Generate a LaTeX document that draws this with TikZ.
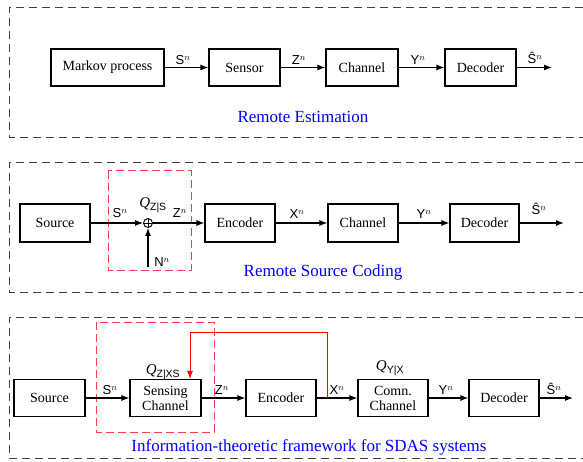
\documentclass[tikz,border=0pt]{standalone}
\usepackage{fontspec}
\setmainfont{Liberation Serif}
\setsansfont{Liberation Sans}
\usetikzlibrary{arrows.meta}
\begin{document}
\begin{tikzpicture}[x=1pt,y=-1pt,
 blk/.style={draw, line width=1.1pt, inner sep=0pt, font=\fontsize{14}{16}\selectfont, align=center},
 arr/.style={-{Latex[length=8pt,width=6pt]}, line width=1.1pt},
 redarr/.style={-{Latex[length=8pt,width=6pt]}, line width=0.9pt, draw=red},
 lbl/.style={font=\sffamily\fontsize{13}{14}\selectfont, inner sep=0pt},
 qlbl/.style={font=\fontsize{15}{16}\selectfont, inner sep=0pt},
 panel/.style={draw=black!75, line width=0.9pt, dash pattern=on 8pt off 5pt},
 redbox/.style={draw=red!75, line width=1pt, dash pattern=on 8pt off 4pt},
 ttl/.style={text=blue, font=\fontsize{17}{20}\selectfont, inner sep=0pt},
]
\useasboundingbox (0,0) rectangle (583,462);

% ---------- Panel 1 ----------
\draw[panel] (583,7) -- (9,7) -- (9,137) -- (583,137);
\node[blk, minimum width=113pt, minimum height=37pt] (mk) at (107.5,67.5) {Markov process};
\node[blk, minimum width=71pt, minimum height=37pt] (sn) at (244.5,67.5) {Sensor};
\node[blk, minimum width=72pt, minimum height=37pt] (ch1) at (362,67.5) {Channel};
\node[blk, minimum width=71pt, minimum height=37pt] (dc1) at (480.5,67.5) {Decoder};
\coordinate (e1) at (552,67.5);
\draw[arr] (mk) -- (sn);
\draw[arr] (sn) -- (ch1);
\draw[arr] (ch1) -- (dc1);
\draw[arr] (dc1) -- (e1);
\node[lbl] (l1a) at (183,60) {S$^n$};
\node[lbl] (l1b) at (299,60) {Z$^n$};
\node[lbl] (l1c) at (418,60) {Y$^n$};
\node[lbl] (l1d) at (535,58) {\^{S}$^n$};
\node[ttl] (t1) at (303,117) {Remote Estimation};

% ---------- Panel 2 ----------
\draw[panel] (583,162) -- (9,162) -- (9,292) -- (583,292);
\draw[redbox] (108,171) rectangle (191,270);
\node[blk, minimum width=70pt, minimum height=38pt] (src2) at (55,223) {Source};
\node[draw, circle, line width=0.9pt, minimum size=9pt, inner sep=0pt] (sum) at (148,223) {};
\draw[line width=0.8pt] (sum.north) -- (sum.south) (sum.west) -- (sum.east);
\node[blk, minimum width=70pt, minimum height=38pt] (enc2) at (240,223) {Encoder};
\node[blk, minimum width=70pt, minimum height=38pt] (ch2) at (363,223) {Channel};
\node[blk, minimum width=69pt, minimum height=38pt] (dc2) at (484.5,223) {Decoder};
\coordinate (e2) at (564,223);
\coordinate (nn) at (148,267);
\draw[arr] (src2) -- (sum);
\draw[arr] (nn) -- (sum);
\draw[arr] (sum) -- (enc2);
\draw[arr] (enc2) -- (ch2);
\draw[arr] (ch2) -- (dc2);
\draw[arr] (dc2) -- (e2);
\node[lbl] (l2a) at (120,213) {S$^n$};
\node[qlbl] (q2) at (153,205) {\textit{Q}\textsubscript{\sffamily Z|S}};
\node[lbl] (l2b) at (180,213) {Z$^n$};
\node[lbl] (l2n) at (162,262) {N$^n$};
\node[lbl] (l2c) at (297,214) {X$^n$};
\node[lbl] (l2d) at (424,214) {Y$^n$};
\node[lbl] (l2e) at (539,209) {\^{S}$^n$};
\node[ttl] (t2) at (323,272) {Remote Source Coding};

% ---------- Panel 3 ----------
\draw[panel] (583,317) -- (9,317) -- (9,458) -- (583,458);
\draw[redbox] (96,322) rectangle (214,432);
\node[blk, minimum width=71pt, minimum height=37pt] (src3) at (49.5,398) {Source};
\node[blk, minimum width=71pt, minimum height=37pt] (sc) at (165.5,398) {Sensing\\[-1pt]Channel};
\node[blk, minimum width=70pt, minimum height=37pt] (enc3) at (281,398) {Encoder};
\node[blk, minimum width=70pt, minimum height=37pt] (cc) at (393,398) {Comn.\\[-1pt]Channel};
\node[blk, minimum width=70pt, minimum height=37pt] (dc3) at (504,398) {Decoder};
\coordinate (e3) at (573,398);
\coordinate (fb) at (327,398);
\coordinate (fbt) at (190,332);
\draw[arr] (src3) -- (sc);
\draw[arr] (sc) -- (enc3);
\draw[arr] (enc3) -- (cc);
\draw[arr] (cc) -- (dc3);
\draw[arr] (dc3) -- (e3);
\draw[redarr] (fb) |- (fbt) -- (fbt |- sc.north);
\node[lbl] (l3a) at (110,390) {S$^n$};
\node[qlbl] (q3) at (163,372) {\textit{Q}\textsubscript{\sffamily Z|XS}};
\node[lbl] (l3b) at (222,390) {Z$^n$};
\node[lbl] (l3c) at (337,390) {X$^n$};
\node[qlbl] (q4) at (390,368) {\textit{Q}\textsubscript{\sffamily Y|X}};
\node[lbl] (l3d) at (446,390) {Y$^n$};
\node[lbl] (l3e) at (554,389) {\^{S}$^n$};
\node[ttl] (t3) at (309,447) {Information-theoretic framework for SDAS systems};
\end{tikzpicture}
\end{document}
